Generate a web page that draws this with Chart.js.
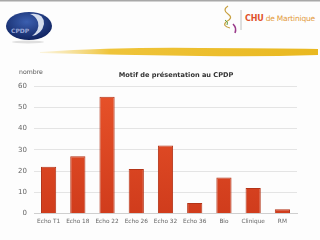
<!DOCTYPE html>
<html>
<head>
<meta charset="utf-8">
<script src="https://cdn.jsdelivr.net/npm/chart.js@4"></script>
<style>
  html, body { margin: 0; padding: 0; background: #fff; }
  #wrap { position: relative; width: 320px; height: 240px; overflow: hidden; background: #fdfdfd; }
  #deco { position: absolute; left: 0; top: 0; }
  #myCanvas { position: absolute; left: 0; top: 0; }
  .chu { position: absolute; left: 245px; top: 14px; white-space: nowrap; font-family: "DejaVu Sans", sans-serif; font-size: 7.5px; color: #e39a3a; letter-spacing: -0.2px; }
  .chu b { color: #e0502a; font-size: 8px; }
</style>
</head>
<body>
<div id="wrap">
  <svg id="deco" width="320" height="65" xmlns="http://www.w3.org/2000/svg">
    <defs>
      <radialGradient id="blue" cx="0.45" cy="0.35" r="0.7">
        <stop offset="0" stop-color="#3b5fb0"/>
        <stop offset="1" stop-color="#0d1f5a"/>
      </radialGradient>
      <linearGradient id="yel" x1="0" x2="1">
        <stop offset="0" stop-color="#f3d36a" stop-opacity="0.2"/>
        <stop offset="0.25" stop-color="#efc43a"/>
        <stop offset="1" stop-color="#e9b820"/>
      </linearGradient>
    </defs>
    <rect x="0" y="0" width="320" height="1.5" fill="#a8a8a8"/>
    <ellipse cx="29" cy="26" rx="23" ry="14" fill="url(#blue)"/>
    <path d="M30 14 Q44 12 44 24 Q42 34 32 36 Q40 30 38 22 Q36 16 30 14 Z" fill="#e8eef8" opacity="0.9"/>
    <text x="11" y="33" font-family="DejaVu Sans" font-size="6" font-weight="bold" fill="#9aa7d8">CPDP</text>
    <ellipse cx="28" cy="42" rx="16" ry="1.5" fill="#cccccc" opacity="0.6"/>
    <path d="M228 6 Q222 10 228 14 Q234 18 226 22 Q222 26 230 28" stroke="#c8a040" stroke-width="1.2" fill="none"/>
    <path d="M233 24 Q237 28 235 33" stroke="#9a3a8a" stroke-width="1.5" fill="none"/>
    <path d="M225 20 Q229 22 227 25" stroke="#5aa040" stroke-width="1" fill="none"/>
    <line x1="241" y1="10" x2="241" y2="30" stroke="#b0b0b0" stroke-width="0.8"/>
    <path d="M40 52 Q120 47 200 48 Q270 48 318 49 L318 55 Q260 57 200 56 Q120 55 40 53 Z" fill="url(#yel)"/>
  </svg>
  <div class="chu"><b>CHU</b> de Martinique</div>
  <canvas id="myCanvas" width="320" height="240"></canvas>
</div>
<script>
const categories = ["Echo T1", "Echo 18", "Echo 22", "Echo 26", "Echo 32", "Echo 36", "Bio", "Clinique", "RM"];
const counts = [22, 27, 55, 21, 32, 5, 17, 12, 2];
const yTicks = [0, 10, 20, 30, 40, 50, 60];

const titleText = "Motif de présentation au CPDP";
const yLabel = "nombre";

const labelsPlugin = {
  id: "labels",
  afterDraw(chart) {
    const ctx = chart.ctx;
    ctx.save();
    ctx.fillStyle = "#333";
    ctx.font = "bold 6.6px 'DejaVu Sans'";
    ctx.textAlign = "center";
    ctx.textBaseline = "middle";
    ctx.fillText(titleText, 176, 75);
    ctx.fillStyle = "#555";
    ctx.font = "6.2px 'DejaVu Sans'";
    ctx.textAlign = "left";
    ctx.fillText(yLabel, 19, 72);
    ctx.restore();
  }
};

const ctx = document.getElementById("myCanvas").getContext("2d");
const barFill = ctx.createLinearGradient(0, 86, 0, 214);
barFill.addColorStop(0, "#e8532a");
barFill.addColorStop(1, "#d03c1c");

new Chart(ctx, {
  type: "bar",
  data: {
    labels: categories,
    datasets: [{
      data: counts,
      backgroundColor: barFill,
      borderColor: "#b33418",
      borderWidth: 1,
      barPercentage: 0.52,
      categoryPercentage: 1
    }]
  },
  options: {
    responsive: false,
    animation: false,
    layout: { padding: { top: 86, right: 23, left: 0, bottom: 0 } },
    plugins: { legend: { display: false }, title: { display: false }, tooltip: { enabled: false } },
    scales: {
      x: {
        grid: { display: false, drawTicks: false },
        border: { color: "#cfcfcf" },
        ticks: { color: "#666", font: { family: "DejaVu Sans", size: 5.8 }, maxRotation: 0, autoSkip: false, padding: 5 },
        afterFit(scale) { scale.height = 26.5; }
      },
      y: {
        min: 0,
        max: 60,
        afterBuildTicks(scale) { scale.ticks = yTicks.map(v => ({ value: v })); },
        grid: { color: "#e4e4e4", drawTicks: false },
        border: { display: false },
        ticks: { color: "#666", font: { family: "DejaVu Sans", size: 7 }, padding: 7 },
        afterFit(scale) { scale.width = 34; }
      }
    }
  },
  plugins: [labelsPlugin]
});
</script>
</body>
</html>
